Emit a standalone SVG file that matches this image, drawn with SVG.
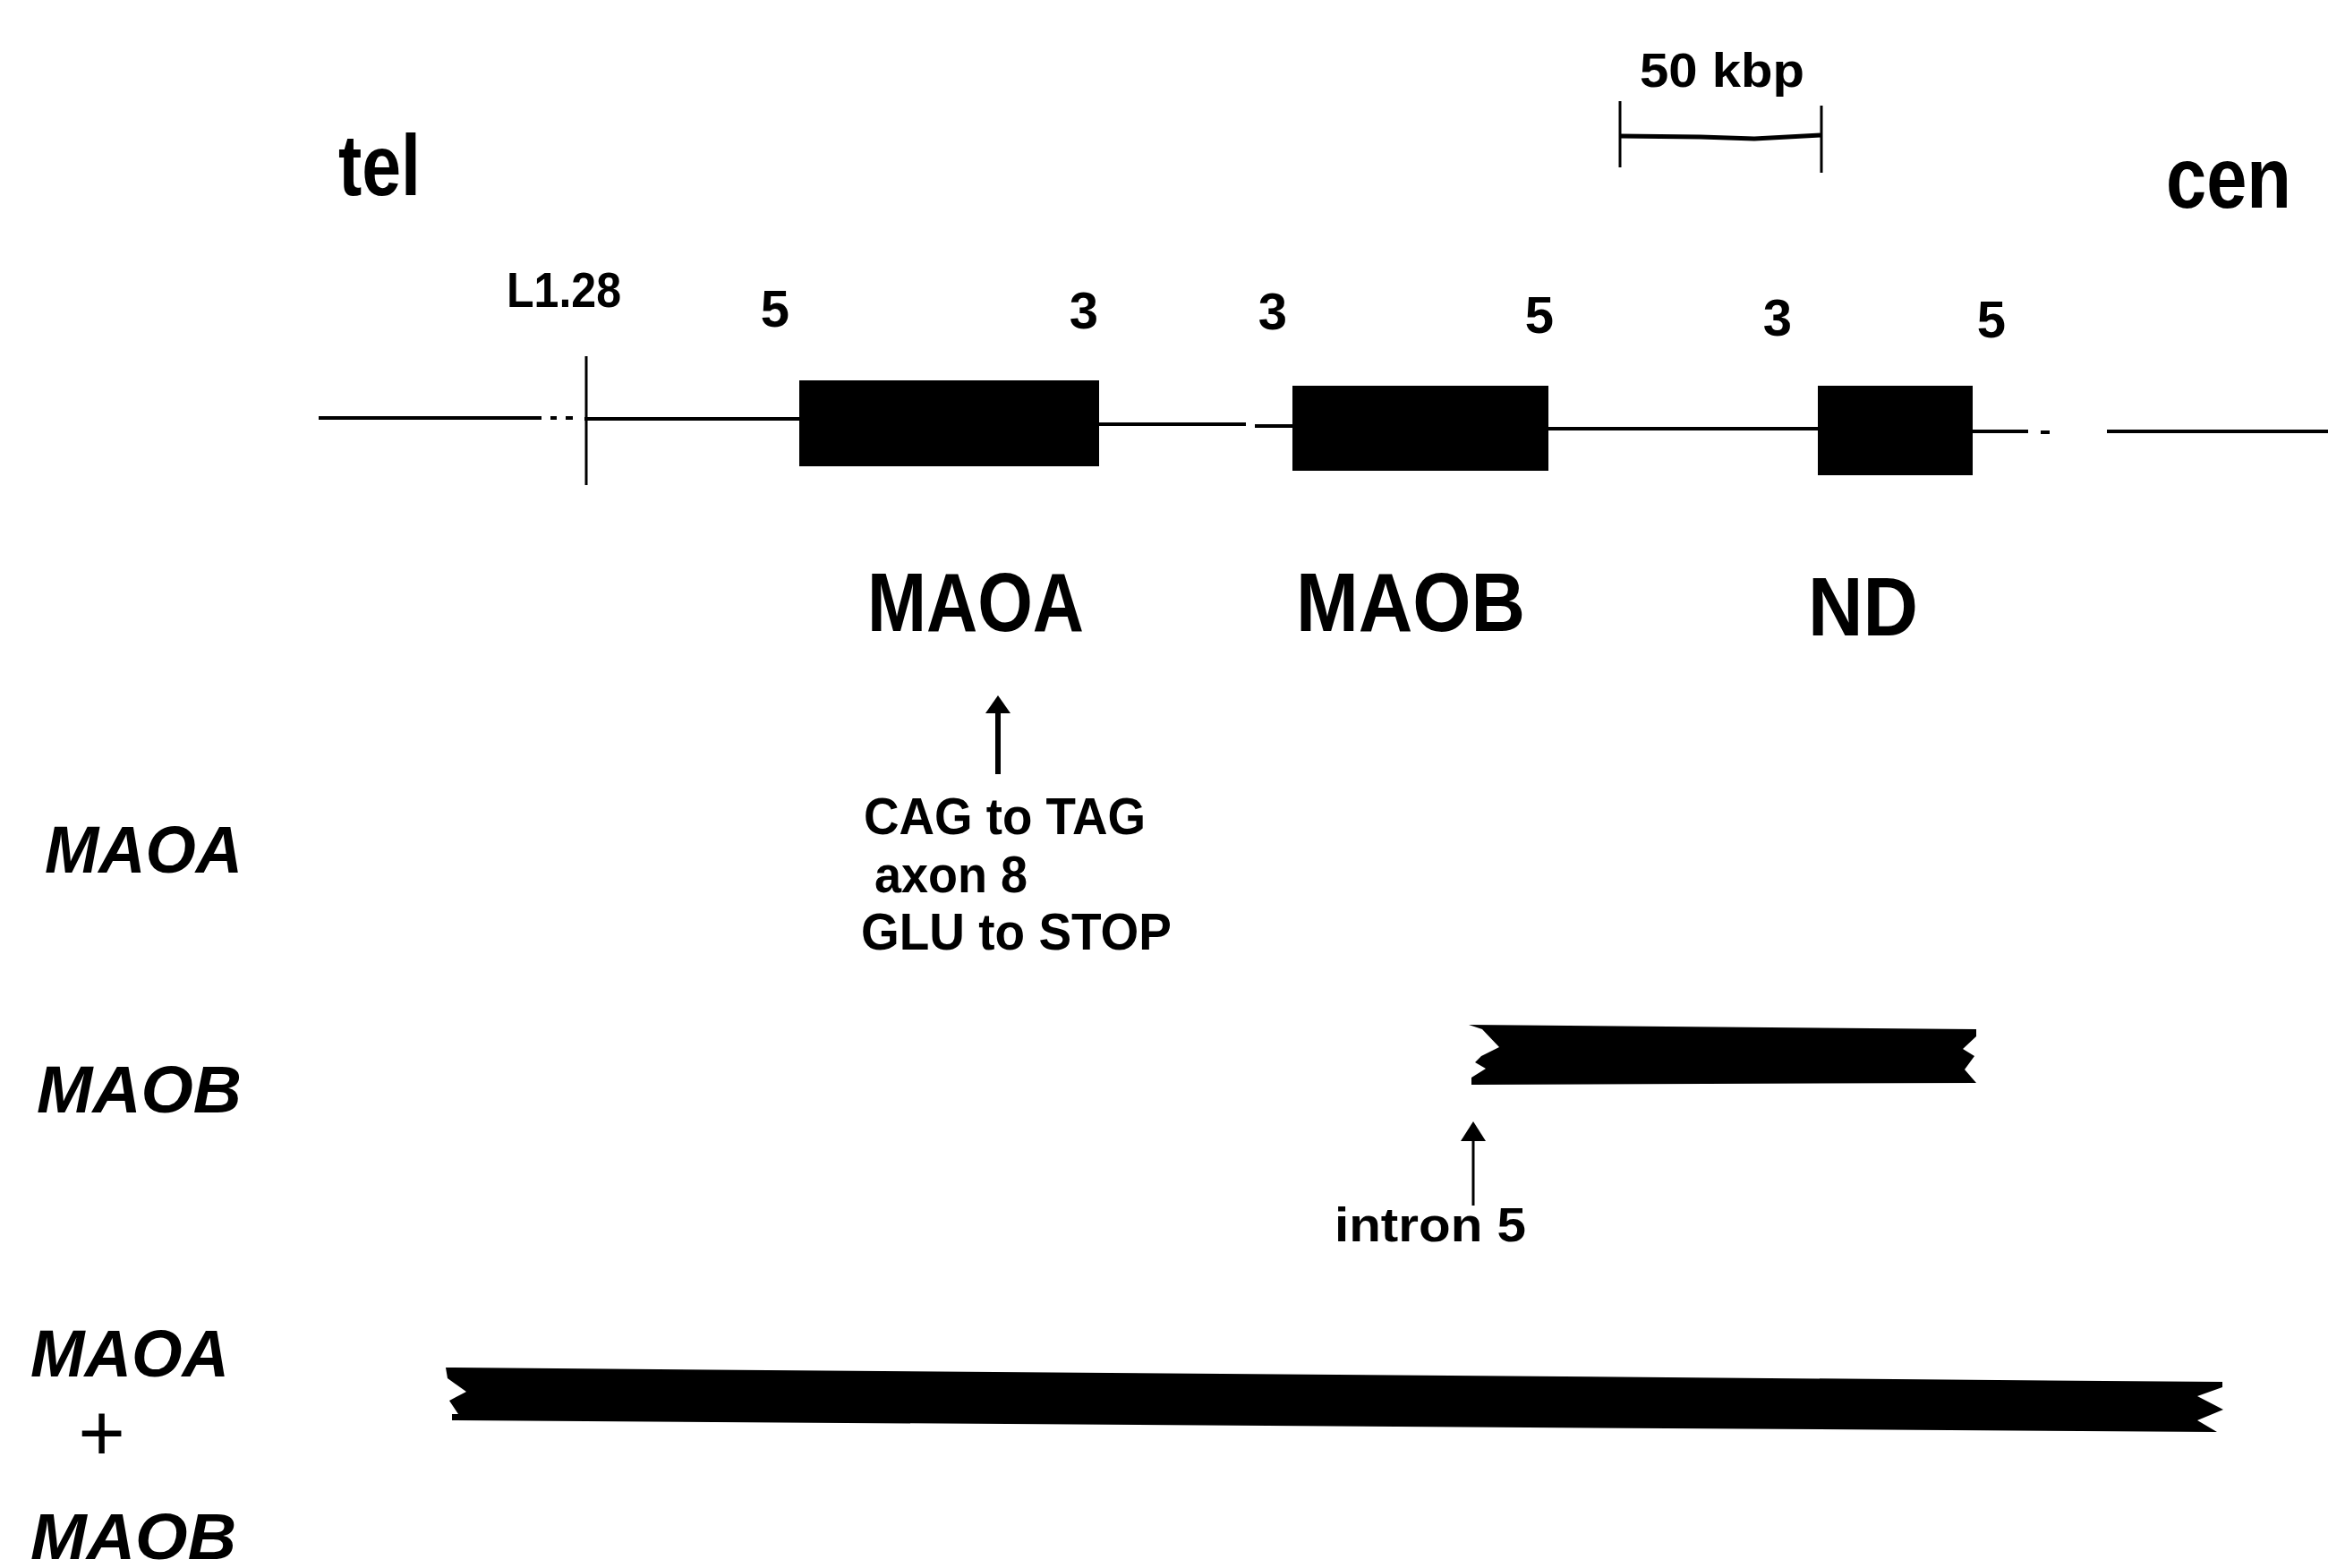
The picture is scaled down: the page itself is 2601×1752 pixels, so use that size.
<svg xmlns="http://www.w3.org/2000/svg" width="2601" height="1752" viewBox="0 0 2601 1752">
<style>
.t{font-family:"Liberation Sans",Arial,sans-serif;font-weight:bold;fill:#000}
.i{font-family:"Liberation Sans",Arial,sans-serif;font-weight:bold;font-style:italic;fill:#000}
.p{font-family:"Liberation Sans",Arial,sans-serif;font-weight:normal;font-style:italic;fill:#000}
.ln{stroke:#000;fill:none}
</style>
<rect width="2601" height="1752" fill="#fff"/>
<g id="ends">
<text class="t" x="378" y="218" font-size="96" textLength="92" lengthAdjust="spacingAndGlyphs">tel</text>
<text class="t" x="2420" y="232" font-size="96" textLength="140" lengthAdjust="spacingAndGlyphs">cen</text>
</g>
<g id="scalebar">
<text class="t" x="1832" y="97" font-size="54" textLength="184" lengthAdjust="spacingAndGlyphs">50 kbp</text>
<path class="ln" stroke-width="3" d="M1810 113V187M2035 118V193"/>
<path class="ln" stroke-width="5" d="M1810 152L1900 153L1960 155L2035 151"/>
</g>
<g id="chromosome">
<path class="ln" stroke-width="4" d="M356 467H605M615 467H622M632 467H640M653 468H893M1228 474H1392M1402 476H1444M1730 479H2031M2204 482H2266M2280 483H2290M2354 482H2601"/>
<path class="ln" stroke-width="3" d="M655 398V542"/>
<text class="t" x="566" y="343" font-size="55" textLength="128" lengthAdjust="spacingAndGlyphs">L1.28</text>
</g>
<g id="ends-labels" class="t" font-size="58" text-anchor="middle">
<text x="866" y="365">5</text>
<text x="1211" y="367">3</text>
<text x="1422" y="368">3</text>
<text x="1720" y="372">5</text>
<text x="1986" y="375">3</text>
<text x="2225" y="377">5</text>
</g>
<g id="gene-MAOA">
<rect x="893" y="425" width="335" height="96" fill="#000"/>
<text class="t" x="969" y="705" font-size="92" textLength="242" lengthAdjust="spacingAndGlyphs">MAOA</text>
</g>
<g id="gene-MAOB">
<rect x="1444" y="431" width="286" height="95" fill="#000"/>
<text class="t" x="1448" y="705" font-size="92" textLength="256" lengthAdjust="spacingAndGlyphs">MAOB</text>
</g>
<g id="gene-ND">
<rect x="2031" y="431" width="173" height="100" fill="#000"/>
<text class="t" x="2020" y="710" font-size="92" textLength="123" lengthAdjust="spacingAndGlyphs">ND</text>
</g>
<g id="row-labels">
<text class="i" x="50" y="975" font-size="75" textLength="221" lengthAdjust="spacingAndGlyphs">MAOA</text>
<text class="i" x="41" y="1243" font-size="75" textLength="229" lengthAdjust="spacingAndGlyphs">MAOB</text>
<text class="i" x="34" y="1538" font-size="75" textLength="222" lengthAdjust="spacingAndGlyphs">MAOA</text>
<text class="p" x="86" y="1632" font-size="90">+</text>
<text class="i" x="34" y="1742" font-size="73" textLength="230" lengthAdjust="spacingAndGlyphs">MAOB</text>
</g>
<g id="mutation-MAOA">
<text class="t" x="965" y="932" font-size="58" textLength="315" lengthAdjust="spacingAndGlyphs">CAG to TAG</text>
<text class="t" x="977" y="997" font-size="58" textLength="171" lengthAdjust="spacingAndGlyphs">axon 8</text>
<text class="t" x="962" y="1061" font-size="58" textLength="347" lengthAdjust="spacingAndGlyphs">GLU to STOP</text>
</g>
<g id="deletion-MAOB">
<path fill="#000" d="M1641 1145L2208 1150L2208 1158L2193 1172L2206 1180L2195 1195L2208 1210L1644 1212L1644 1204L1660 1194L1648 1187L1655 1180L1675 1170L1656 1150Z"/>
<text class="t" x="1491" y="1387" font-size="53" textLength="214" lengthAdjust="spacingAndGlyphs">intron 5</text>
</g>
<g id="deletion-MAOA-MAOB">
<path fill="#000" d="M498 1528L2483 1544L2483 1550L2455 1560L2484 1575L2455 1587L2477 1600L505 1587L505 1580L512 1580L502 1565L521 1555L500 1540Z"/>
</g>
<g id="connectors">
<path class="ln" stroke-width="6" d="M1115 792V865"/>
<polygon points="1115,777 1101,797 1129,797" fill="#000"/>
<path class="ln" stroke-width="3" d="M1646 1270V1347"/>
<polygon points="1646,1253 1632,1275 1660,1275" fill="#000"/>
</g>
</svg>
